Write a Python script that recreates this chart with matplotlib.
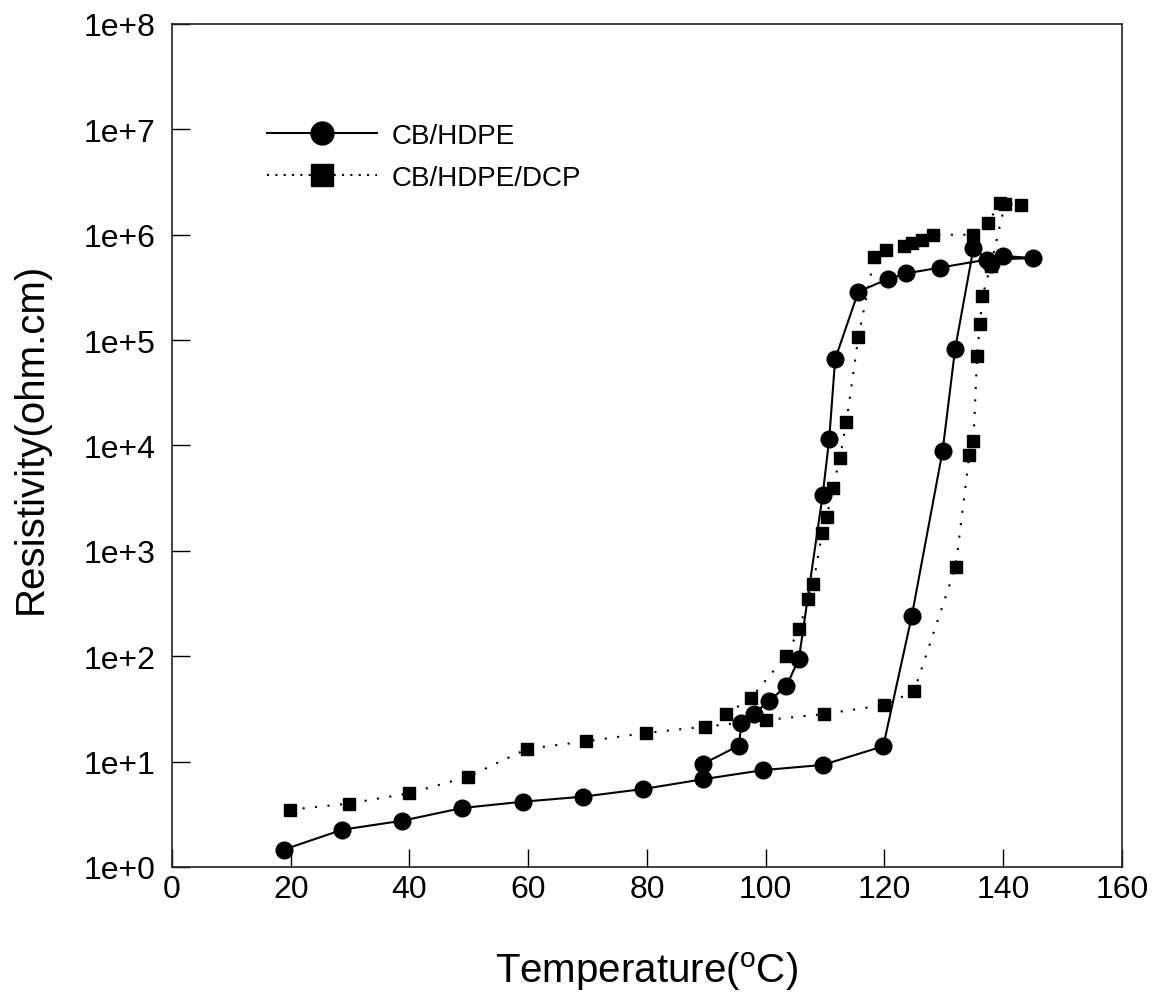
import numpy as np
import matplotlib
matplotlib.use('Agg')
import matplotlib.pyplot as plt
from matplotlib.ticker import FixedLocator, FixedFormatter

plt.rcParams['font.family'] = ['Liberation Sans', 'DejaVu Sans']
plt.rcParams['mathtext.fontset'] = 'custom'
plt.rcParams['mathtext.rm'] = 'Liberation Sans'

# CB/HDPE: heating then cooling
temp_hdpe = [18.8, 28.7, 38.8, 48.9, 59.2, 69.2, 79.4, 89.4, 99.5, 109.6, 119.8,
             124.6, 129.8, 131.9, 135.0, 138.0, 140.0, 145.0,
             137.2, 129.3, 123.7, 120.6, 115.6, 111.7, 110.7, 109.6,
             105.6, 103.5, 100.6, 98.0, 95.9, 95.5, 89.4]
res_hdpe = [1.46, 2.26, 2.75, 3.63, 4.17, 4.65, 5.5, 6.8, 8.3, 9.3, 14.0,
            240, 8.9e3, 8.2e4, 7.5e5, 5.3e5, 6.3e5, 6.0e5,
            5.8e5, 4.87e5, 4.3e5, 3.8e5, 2.88e5, 6.6e4, 1.15e4, 3.4e3,
            95, 52, 37.9, 28.3, 23.3, 14.2, 9.5]

# CB/HDPE/DCP: heating then cooling
temp_dcp = [19.9, 29.8, 39.9, 49.9, 59.8, 69.8, 79.8, 89.8, 100.0, 109.9, 120.0,
            125.0, 132.0, 134.3, 135.0, 135.6, 136.1, 136.5, 137.9, 140.3, 143.0,
            139.5, 137.4, 135.0, 128.1, 126.4, 124.6, 123.3, 120.3, 118.3, 115.6,
            113.6, 112.5, 111.3, 110.3, 109.5, 108.0, 107.1, 105.65, 103.4, 97.5, 93.3]
res_dcp = [3.5, 4.0, 5.0, 7.2, 13.2, 15.6, 18.7, 21.5, 24.8, 28.3, 34.5,
           46.5, 7.1e2, 8.1e3, 1.1e4, 7.0e4, 1.43e5, 2.6e5, 5.1e5, 1.96e6, 1.9e6,
           2.0e6, 1.3e6, 1.0e6, 1.0e6, 8.9e5, 8.3e5, 7.8e5, 7.2e5, 6.1e5, 1.06e5,
           1.68e4, 7.6e3, 3.98e3, 2.1e3, 1.48e3, 4.8e2, 3.5e2, 1.8e2, 1.0e2, 40, 28]

xticks = [0, 20, 40, 60, 80, 100, 120, 140, 160]
yticks = [1e0, 1e1, 1e2, 1e3, 1e4, 1e5, 1e6, 1e7, 1e8]
ylabels = ['1e+0', '1e+1', '1e+2', '1e+3', '1e+4', '1e+5', '1e+6', '1e+7', '1e+8']

fig = plt.figure(figsize=(11.59, 10.03), dpi=100)
ax = fig.add_axes([0.1484, 0.1346, 0.8196, 0.8405])

ax.plot(temp_hdpe, res_hdpe, color='black', lw=1.5, marker='o', ms=12,
        label='CB/HDPE')
ax.plot(temp_dcp, res_dcp, color='black', lw=1.5, ls=(0, (1, 5)), marker='s',
        ms=8.5, label='CB/HDPE/DCP')

ax.set_yscale('log')
ax.set_xlim(0, 160)
ax.set_ylim(1, 1e8)
ax.xaxis.set_major_locator(FixedLocator(xticks))
ax.yaxis.set_major_locator(FixedLocator(yticks))
ax.yaxis.set_major_formatter(FixedFormatter(ylabels))
ax.yaxis.set_minor_locator(FixedLocator([]))
ax.tick_params(direction='in', length=13, width=1, labelsize=23)
ax.tick_params(axis='x', pad=5)
ax.tick_params(axis='y', pad=12)
for s in ax.spines.values():
    s.set_linewidth(1.2)
    s.set_color('#222222')

ax.set_xlabel(r'Temperature($^{\rm o}$C)', fontsize=29)
ax.set_ylabel('Resistivity(ohm.cm)', fontsize=29)
ax.xaxis.set_label_coords(0.499, -0.098)
ax.yaxis.set_label_coords(-0.129, 0.51)

leg = ax.legend(loc='upper left', bbox_to_anchor=(0.1, 0.883), frameon=False,
                fontsize=20, handlelength=3.96, handletextpad=0.54,
                labelspacing=0.58, borderpad=0, borderaxespad=0)
leg.legend_handles[0].set_markersize(16.5)
leg.legend_handles[1].set_markersize(16)
leg.legend_handles[1].set_linestyle((0, (1, 3)))

fig.savefig('out.png', dpi=100)
